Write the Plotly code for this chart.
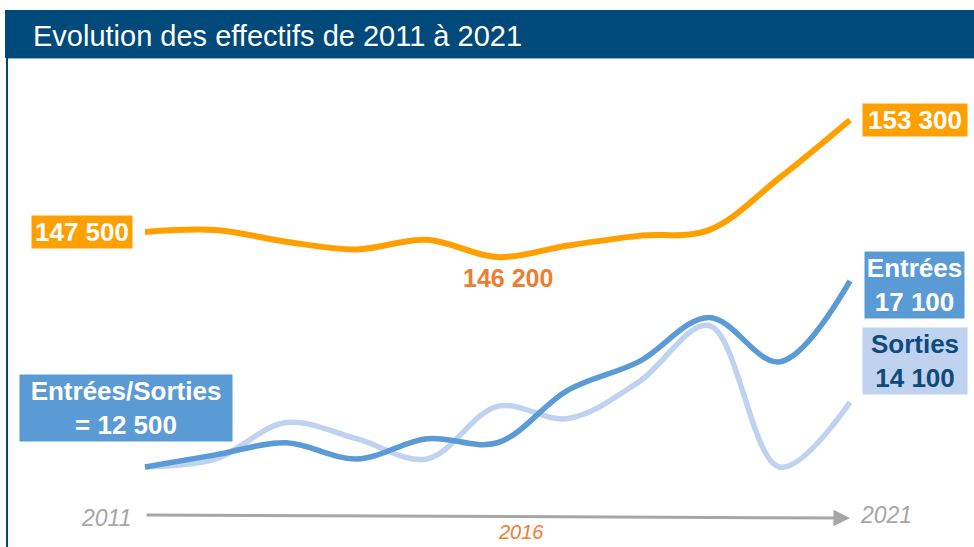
import plotly.graph_objects as go

# values
years = list(range(2011, 2022))
effectifs = [147500, 147600, 147000, 146600, 147100, 146200, 146800, 147300, 147600, 150300, 153300]
entrees = [12500, 12800, 13100, 12700, 13200, 13100, 14400, 15100, 16200, 15100, 17100]
sorties = [12500, 12700, 13600, 13200, 12700, 14000, 13700, 14600, 16000, 12500, 14100]
title = "Evolution des effectifs de 2011 à 2021"

W, H = 974, 547
FONT = "Liberation Sans, Arial, sans-serif"
NAVY = "#00497b"
ORANGE = "#ffa000"
BLUE = "#5b9bd5"
LIGHT = "#bfd2ef"
GREY = "#a6a6a6"


def fmt(v):
    return f"{v:,}".replace(",", " ")


def px(xp):
    return xp / W


def py(yp):
    return 1 - yp / H


fig = go.Figure()
fig.add_trace(go.Scatter(x=years, y=effectifs, mode="lines", yaxis="y",
                         line=dict(color=ORANGE, width=6, shape="spline", smoothing=1)))
fig.add_trace(go.Scatter(x=years, y=sorties, mode="lines", yaxis="y2",
                         line=dict(color=LIGHT, width=5.5, shape="spline", smoothing=1)))
fig.add_trace(go.Scatter(x=years, y=entrees, mode="lines", yaxis="y2",
                         line=dict(color=BLUE, width=5.5, shape="spline", smoothing=1)))

i_min = effectifs.index(min(effectifs))
bold = dict(family=FONT, size=26, color="white")

ann = [
    # title
    dict(text=title, xref="paper", yref="paper", x=px(31), y=py(36), xanchor="left", yanchor="middle",
         showarrow=False, font=dict(family=FONT, size=29, color="white")),
    # effectifs labels
    dict(text="<b>" + fmt(effectifs[0]) + "</b>", x=years[0], y=effectifs[0], xref="x", yref="y",
         xanchor="right", yanchor="middle", xshift=-12, showarrow=False, font=bold,
         bgcolor=ORANGE, borderpad=1, width=98),
    dict(text="<b>" + fmt(effectifs[-1]) + "</b>", x=years[-1], y=effectifs[-1], xref="x", yref="y",
         xanchor="left", yanchor="middle", xshift=12, showarrow=False, font=bold,
         bgcolor=ORANGE, borderpad=1, width=102),
    dict(text="<b>" + fmt(effectifs[i_min]) + "</b>", x=years[i_min], y=effectifs[i_min], xref="x", yref="y",
         xanchor="center", yanchor="middle", xshift=10, yshift=-21, showarrow=False,
         font=dict(family=FONT, size=25, color="#ed7d31")),
    # entrees / sorties labels
    dict(text="<b>Entrées<br>" + fmt(entrees[-1]) + "</b>", x=years[-1], y=entrees[-1], xref="x", yref="y2",
         xanchor="left", yanchor="middle", xshift=14, yshift=-4, showarrow=False, font=bold,
         bgcolor=BLUE, borderpad=1, width=97),
    dict(text="<b>Sorties<br>" + fmt(sorties[-1]) + "</b>", x=years[-1], y=sorties[-1], xref="x", yref="y2",
         xanchor="left", yanchor="middle", xshift=12, yshift=41, showarrow=False,
         font=dict(family=FONT, size=26, color="#0d4a7d"),
         bgcolor=LIGHT, borderpad=1, width=102),
    dict(text="<b>Entrées/Sorties<br>= " + fmt(entrees[0]) + "</b>", x=years[0], y=entrees[0], xref="x", yref="y2",
         xanchor="center", yanchor="middle", xshift=-19, yshift=59, showarrow=False, font=bold,
         bgcolor=BLUE, borderpad=1, width=210),
    # time axis
    dict(text="", x=years[-1], y=py(518), xref="x", yref="paper", ax=years[0], ay=-3,
         axref="x", ayref="pixel", showarrow=True, arrowhead=2, arrowsize=1.1, arrowwidth=3,
         arrowcolor=GREY, standoff=0, startstandoff=0),
    dict(text="<i>" + str(years[0]) + "</i>", x=years[0], y=py(518), xref="x", yref="paper",
         xanchor="right", yanchor="middle", xshift=-12, showarrow=False,
         font=dict(family=FONT, size=23, color=GREY)),
    dict(text="<i>" + str(years[-1]) + "</i>", x=years[-1], y=py(515), xref="x", yref="paper",
         xanchor="left", yanchor="middle", xshift=8, showarrow=False,
         font=dict(family=FONT, size=23, color=GREY)),
    dict(text="<i>" + str(years[i_min]) + "</i>", x=years[i_min], y=py(532), xref="x", yref="paper",
         xanchor="left", yanchor="middle", xshift=-2, showarrow=False,
         font=dict(family=FONT, size=20, color="#ed7d31")),
]

shapes = [
    dict(type="rect", xref="paper", yref="paper", x0=px(5), x1=1.0, y0=py(58), y1=py(10),
         fillcolor=NAVY, line=dict(width=0), layer="below"),
    dict(type="line", xref="paper", yref="paper", x0=px(8), x1=1.0, y0=py(58.5), y1=py(58.5),
         line=dict(color="#8fb3d9", width=1)),
    dict(type="line", xref="paper", yref="paper", x0=px(7), x1=px(7), y0=py(58), y1=0,
         line=dict(color=NAVY, width=2)),
]

fig.update_layout(
    width=W, height=H,
    margin=dict(l=0, r=0, t=0, b=0),
    paper_bgcolor="white", plot_bgcolor="white",
    showlegend=False,
    hovermode=False,
    xaxis=dict(range=[2008.943, 2022.759], visible=False, showgrid=False, zeroline=False),
    yaxis=dict(range=[131183, 159518], visible=False, showgrid=False, zeroline=False),
    yaxis2=dict(range=[10522, 24049], visible=False, showgrid=False, zeroline=False,
                overlaying="y"),
    annotations=ann,
    shapes=shapes,
    font=dict(family=FONT),
)

# page body has a default 8px margin; drop it so the figure fills the window
fig.write_html("out.html", config={"displayModeBar": False},
               post_script="document.body.style.margin='0';")
